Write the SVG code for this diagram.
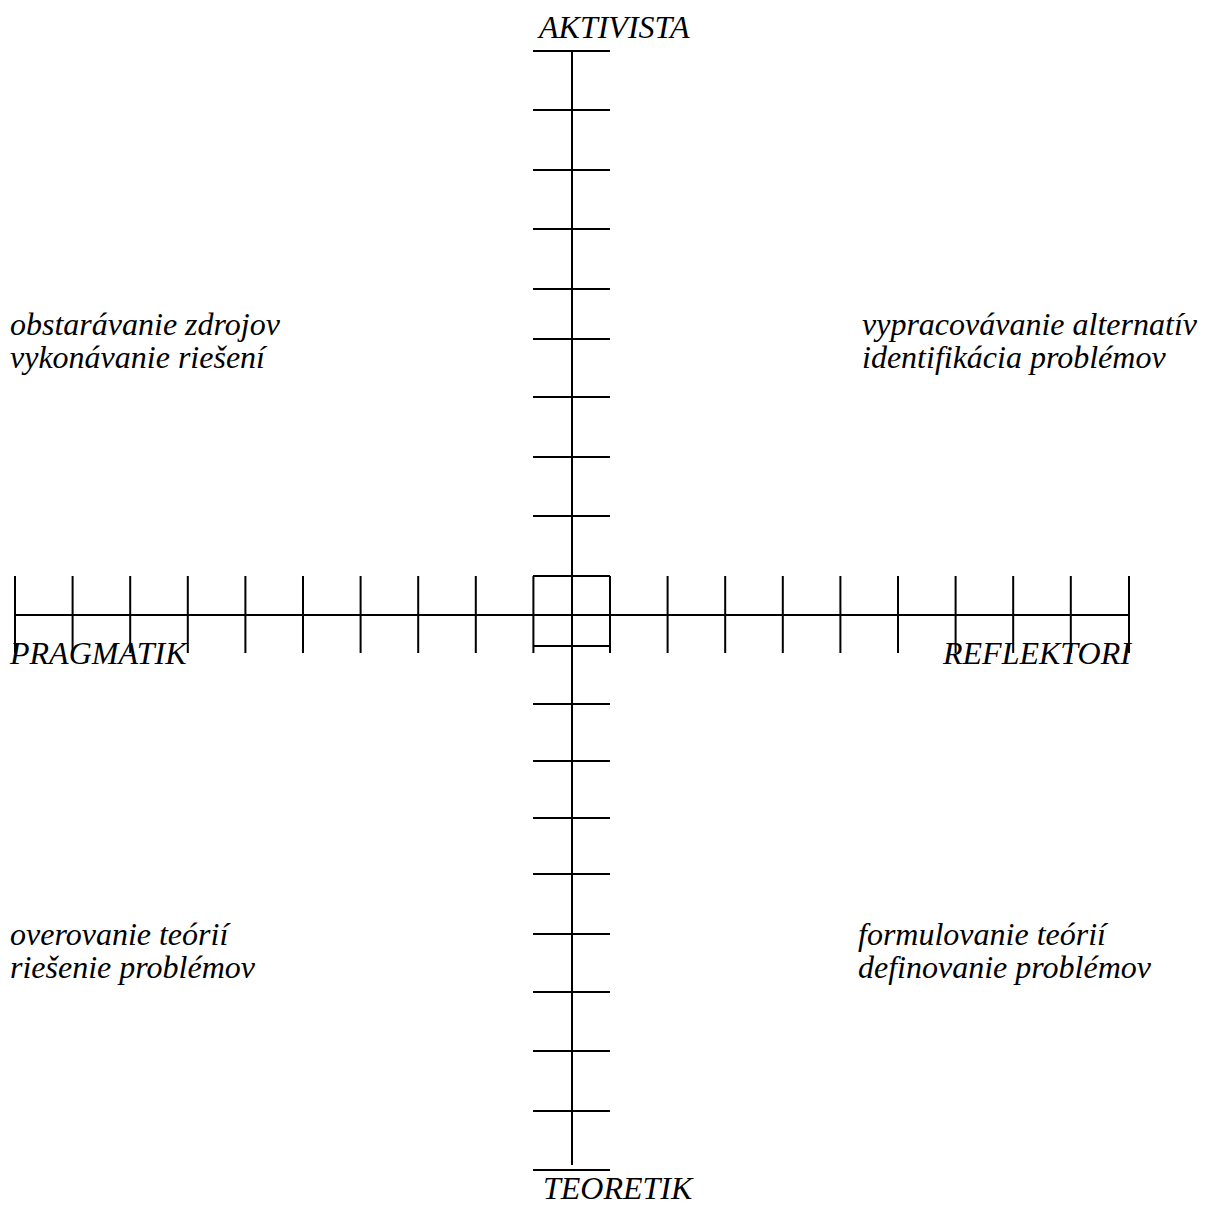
<svg xmlns="http://www.w3.org/2000/svg" width="1207" height="1207" viewBox="0 0 1207 1207">
<style>
.ax{stroke:#000;stroke-width:2;fill:none}
.t{font-family:"Liberation Serif","Times New Roman",serif;font-style:italic;font-size:32px;fill:#000}
</style>
<rect width="1207" height="1207" fill="#fff"/>
<g id="axes" class="ax">
<line x1="572" y1="51" x2="572" y2="1165"/>
<line x1="15" y1="615" x2="1130" y2="615"/>
<path d="M533 51H610M533 110H610M533 170H610M533 229H610M533 289H610M533 339H610M533 397H610M533 457H610M533 516H610M533 576H610M533 646H610M533 704H610M533 761H610M533 818H610M533 874H610M533 934H610M533 992H610M533 1051H610M533 1111H610M533 1170H610"/>
<path d="M15 576V653M72.6 576V653M130.2 576V653M187.8 576V653M245.4 576V653M303 576V653M360.6 576V653M418.2 576V653M475.8 576V653M533.4 576V653M610 576V653M667.6 576V653M725.2 576V653M782.8 576V653M840.4 576V653M898 576V653M955.6 576V653M1013.2 576V653M1070.8 576V653M1129 576V653"/>
</g>
<g id="labels" class="t">
<text x="539" y="38">AKTIVISTA</text>
<text x="543" y="1199">TEORETIK</text>
<text x="10" y="664">PRAGMATIK</text>
<text x="943" y="664">REFLEKTORI</text>
<text x="10" y="335">obstarávanie zdrojov</text>
<text x="10" y="368">vykonávanie riešení</text>
<text x="862" y="335">vypracovávanie alternatív</text>
<text x="862" y="368">identifikácia problémov</text>
<text x="10" y="945">overovanie teórií</text>
<text x="10" y="978">riešenie problémov</text>
<text x="858" y="945">formulovanie teórií</text>
<text x="858" y="978">definovanie problémov</text>
</g>
</svg>
